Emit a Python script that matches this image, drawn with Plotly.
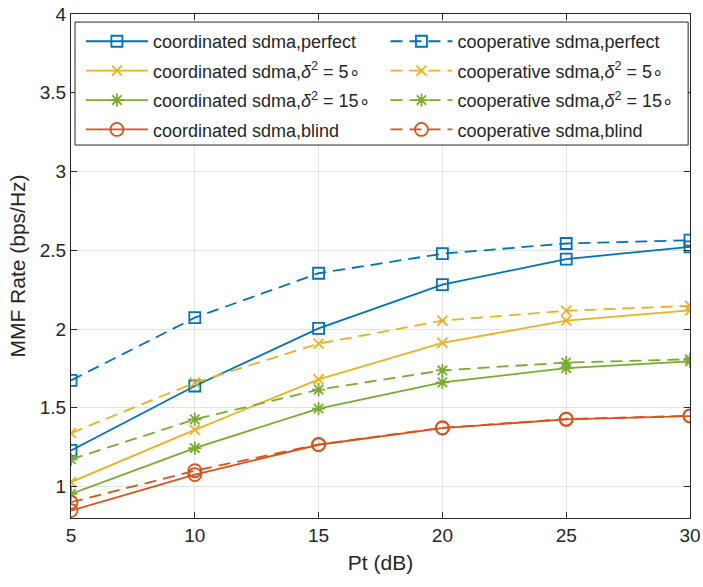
import plotly.graph_objects as go

# Transmit power (dB)
pt_db = [5, 10, 15, 20, 25, 30]

# Max-min fair rate (bps/Hz) per scheme
coord_perfect = [1.229, 1.638, 2.004, 2.282, 2.444, 2.522]
coop_perfect = [1.674, 2.072, 2.354, 2.478, 2.543, 2.564]
coord_5deg = [1.028, 1.360, 1.680, 1.912, 2.053, 2.118]
coop_5deg = [1.339, 1.659, 1.907, 2.053, 2.116, 2.147]
coord_15deg = [0.953, 1.244, 1.495, 1.661, 1.752, 1.794]
coop_15deg = [1.172, 1.426, 1.615, 1.737, 1.787, 1.808]
coord_blind = [0.847, 1.076, 1.265, 1.371, 1.426, 1.447]
coop_blind = [0.900, 1.100, 1.267, 1.373, 1.428, 1.449]

y_ticks = [1, 1.5, 2, 2.5, 3, 3.5, 4]
x_ticks = [5, 10, 15, 20, 25, 30]

BLUE = "#0072BD"
YELLOW = "#EDB120"
GREEN = "#77AC30"
ORANGE = "#D95319"
INK = "#262626"

# (name, values, color, dashed?, marker symbol, marker size, legend column)
series = [
    ("coordinated sdma,perfect", coord_perfect, BLUE, False, "square-open", 11, "legend"),
    ("coordinated sdma,<i>δ</i><sup>2</sup> = 5∘", coord_5deg, YELLOW, False, "x-thin-open", 10, "legend"),
    ("coordinated sdma,<i>δ</i><sup>2</sup> = 15∘", coord_15deg, GREEN, False, "asterisk-open", 11, "legend"),
    ("coordinated sdma,blind", coord_blind, ORANGE, False, "circle-open", 13, "legend"),
    ("cooperative sdma,perfect", coop_perfect, BLUE, True, "square-open", 11, "legend2"),
    ("cooperative sdma,<i>δ</i><sup>2</sup> = 5∘", coop_5deg, YELLOW, True, "x-thin-open", 10, "legend2"),
    ("cooperative sdma,<i>δ</i><sup>2</sup> = 15∘", coop_15deg, GREEN, True, "asterisk-open", 11, "legend2"),
    ("cooperative sdma,blind", coop_blind, ORANGE, True, "circle-open", 13, "legend2"),
]

fig = go.Figure()
for i, (name, vals, color, dashed, symbol, size, leg) in enumerate(series):
    fig.add_trace(go.Scatter(
        x=pt_db, y=vals, name=name, mode="lines+markers",
        legend=leg, legendgroup=f"g{i}",
        line=dict(color=color, width=1.8, dash="12px,7px" if dashed else "solid"),
        marker=dict(symbol=symbol, size=size, color=color,
                    line=dict(color=color, width=1.8)),
    ))

axis_common = dict(
    showgrid=True, gridcolor="#E3E3E3", gridwidth=1,
    showline=True, linecolor=INK, linewidth=1, mirror="allticks",
    ticks="inside", ticklen=6, tickcolor=INK, automargin=False,
    tickfont=dict(size=19, color=INK), zeroline=False,
)

fig.update_xaxes(range=[5, 30], tickvals=x_ticks,
                 title=dict(text="Pt (dB)", font=dict(size=21, color=INK), standoff=10),
                 **axis_common)
fig.update_yaxes(range=[0.8, 4], tickvals=y_ticks, ticktext=[f"{v:g}" for v in y_ticks],
                 title=dict(text="MMF Rate (bps/Hz)", font=dict(size=21, color=INK), standoff=8),
                 **axis_common)

# Legend frame: white box drawn over the data, both legend columns sit inside it
fig.add_shape(type="rect", xref="paper", yref="paper",
              x0=0.0065, x1=0.997, y0=0.740, y1=0.984,
              fillcolor="white", line=dict(color=INK, width=1), layer="above")

legend_common = dict(
    yanchor="top", xanchor="left", y=0.982,
    bgcolor="rgba(0,0,0,0)", borderwidth=0,
    font=dict(size=18, color=INK), tracegroupgap=3, itemwidth=62,
)

fig.update_layout(
    width=703, height=587,
    margin=dict(l=71, r=13, t=14, b=69),
    plot_bgcolor="white", paper_bgcolor="white",
    font=dict(family="Liberation Sans, Arial, sans-serif", color=INK),
    legend=dict(x=0.016, **legend_common),
    legend2=dict(x=0.508, **legend_common),
)

fig.write_html("out.html")
